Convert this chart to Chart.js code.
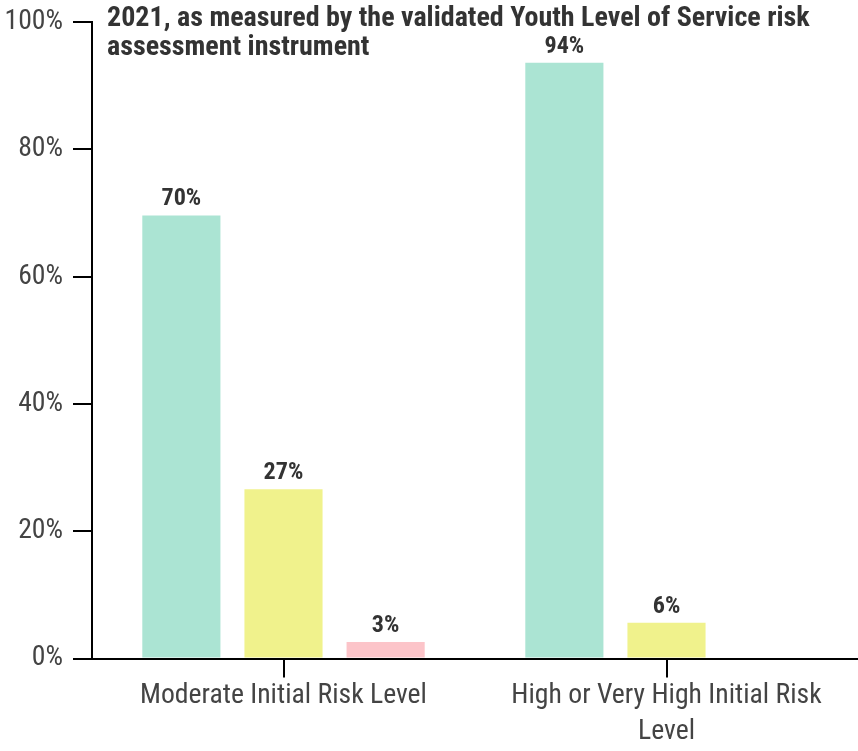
<!DOCTYPE html>
<html>
<head>
<meta charset="utf-8">
<script src="https://cdn.jsdelivr.net/npm/chart.js@4.4.1/dist/chart.umd.min.js"></script>
<style>
  html, body { margin: 0; padding: 0; background: #fff; }
  #wrap { width: 858px; height: 751px; }
</style>
</head>
<body>
<div id="wrap"><canvas id="riskChart"></canvas></div>
<script>
// Data
const categories = ["Moderate Initial Risk Level", "High or Very High Initial Risk Level"];
const seriesGreen = [69.6, 93.6];
const seriesYellow = [26.6, 5.6];
const seriesPink = [2.6, null];
const yTicks = [0, 20, 40, 60, 80, 100];
const titleLines = [
  "2021, as measured by the validated Youth Level of Service risk",
  "assessment instrument"
];

// Pick a condensed face if one is there, else fall back to Roboto
function fontAvailable(name) {
  const c = document.createElement("canvas").getContext("2d");
  const s = "Moderate Initial Risk Level 100%";
  c.font = "40px monospace";
  const w1 = c.measureText(s).width;
  c.font = `40px "${name}", monospace`;
  return c.measureText(s).width !== w1;
}
const family = ["Roboto Condensed", "Liberation Sans Narrow", "Roboto"].find(fontAvailable) || "sans-serif";

// size the text so it takes about the same width as in the picture
function fitSize(text, weight, target) {
  const c = document.createElement("canvas").getContext("2d");
  c.font = `${weight} 100px "${family}"`;
  return 100 * target / c.measureText(text).width;
}
const tickSize = fitSize(categories[0], "normal", 287);
const titleSize = fitSize(titleLines[0], "bold", 703);
const valueSize = titleSize * 0.86;

function wrapLabel(label) {
  if (label.length <= 30) return label;
  const words = label.split(" ");
  const lines = [];
  let line = "";
  words.forEach(w => {
    if ((line + " " + w).trim().length > 30) {
      lines.push(line);
      line = w;
    } else {
      line = (line + " " + w).trim();
    }
  });
  lines.push(line);
  return lines;
}

const valueLabels = {
  id: "valueLabels",
  afterDatasetsDraw(chart) {
    const ctx = chart.ctx;
    ctx.save();
    ctx.font = `bold ${valueSize}px "${family}"`;
    ctx.fillStyle = "#333333";
    ctx.textAlign = "center";
    ctx.textBaseline = "alphabetic";
    chart.data.datasets.forEach((ds, i) => {
      const meta = chart.getDatasetMeta(i);
      meta.data.forEach((bar, j) => {
        const v = ds.data[j];
        if (v === null || v === undefined) return;
        ctx.fillText(Math.round(v) + "%", bar.x, bar.y - 10);
      });
    });
    ctx.restore();
  }
};

const chartTitle = {
  id: "chartTitle",
  afterDraw(chart) {
    const ctx = chart.ctx;
    ctx.save();
    ctx.font = `bold ${titleSize}px "${family}"`;
    ctx.fillStyle = "#333333";
    ctx.textAlign = "left";
    ctx.textBaseline = "alphabetic";
    titleLines.forEach((t, i) => {
      ctx.fillText(t, 107, 26 + i * 29);
    });
    ctx.restore();
  }
};

const ctx = document.getElementById("riskChart").getContext("2d");
new Chart(ctx, {
  type: "bar",
  data: {
    labels: categories,
    datasets: [
      { label: "Green", data: seriesGreen, backgroundColor: "#abe4d3" },
      { label: "Yellow", data: seriesYellow, backgroundColor: "#f0f28c" },
      { label: "Pink", data: seriesPink, backgroundColor: "#fcc4c9" }
    ]
  },
  options: {
    responsive: true,
    maintainAspectRatio: false,
    animation: false,
    categoryPercentage: 0.8,
    barPercentage: 0.765,
    layout: { padding: { top: 22, right: 0, bottom: 0, left: 0 } },
    plugins: {
      legend: { display: false },
      tooltip: { enabled: false }
    },
    scales: {
      x: {
        grid: { display: true, drawOnChartArea: false, offset: false, color: "#000", lineWidth: 2, tickLength: 19 },
        border: { display: true, color: "#000", width: 2 },
        ticks: {
          color: "#444",
          font: { family: family, size: tickSize, lineHeight: 1.3 },
          padding: 1,
          maxRotation: 0,
          callback: function (value) {
            return wrapLabel(this.getLabelForValue(value));
          }
        },
        afterFit: s => { s.height = 92.5; }
      },
      y: {
        min: 0,
        max: 100,
        grid: { display: true, drawOnChartArea: false, color: "#000", lineWidth: 2, tickLength: 19 },
        border: { display: true, color: "#000", width: 2 },
        afterBuildTicks: s => { s.ticks = yTicks.map(v => ({ value: v })); },
        ticks: {
          color: "#444",
          font: { family: family, size: tickSize },
          padding: 10,
          callback: v => v + "%"
        },
        // keep the plot top at the 100% line of the picture
        afterFit: s => { s.width = 92; s.paddingTop = 0; s.paddingBottom = 0; }
      }
    }
  },
  plugins: [valueLabels, chartTitle]
});
</script>
</body>
</html>
